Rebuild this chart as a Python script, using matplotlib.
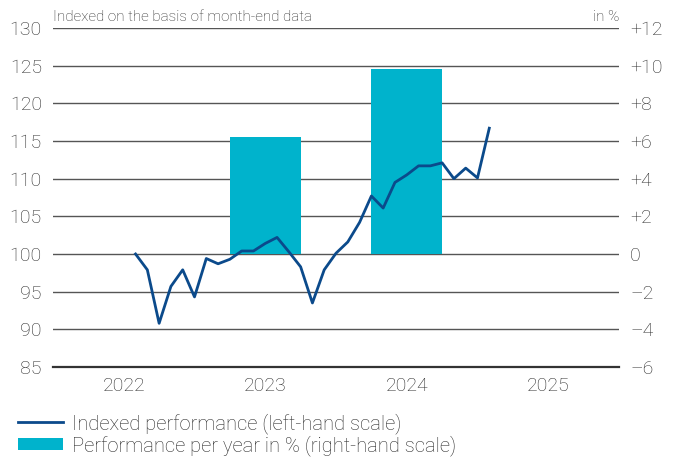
import matplotlib
matplotlib.use("Agg")
import matplotlib.pyplot as plt
import numpy as np
import pandas as pd
from matplotlib.lines import Line2D
from matplotlib.patches import Patch

plt.rcParams['font.family'] = ['Roboto', 'DejaVu Sans']

# Data
months = pd.date_range("2022-07-31", "2025-01-31", freq="ME")
index_values = [100.0, 97.9, 90.8, 95.7, 97.9, 94.3, 99.4, 98.7, 99.3, 100.4,
                100.4, 101.4, 102.2, 100.3, 98.3, 93.5, 97.9, 100.1, 101.6, 104.2,
                107.7, 106.1, 109.5, 110.5, 111.7, 111.7, 112.1, 110.0, 111.4, 110.1,
                116.7]
bar_years = [2023, 2024]
bar_values = [6.2, 9.8]
year_labels = ["2022", "2023", "2024", "2025"]
left_ticks = [85, 90, 95, 100, 105, 110, 115, 120, 125, 130]
right_ticks = [-6, -4, -2, 0, 2, 4, 6, 8, 10, 12]

line_color = "#0b4a8b"
bar_color = "#00b3cc"
text_color = "#2a2a2a"

x_line = [d.year + d.month / 12.0 for d in months]

fig = plt.figure(figsize=(6.75, 4.61), dpi=100)
ax2 = fig.add_axes([53/675, 1-367/461, 566/675, 339/461])
ax = ax2.twinx()
ax.set_zorder(ax2.get_zorder() + 1)
ax.patch.set_visible(False)

# Right axis (behind): gridlines and bars
ax2.set_ylim(-6, 12)
ax2.set_xlim(2022, 2026)
ax2.set_yticks(right_ticks)
ax2.grid(axis='y', color='#555555', linewidth=1.0, zorder=0)
ax2.set_axisbelow(True)
ax2.bar([y + 0.5 for y in bar_years], bar_values, width=0.5, color=bar_color, zorder=2)

# Left axis (front): line
ax.set_ylim(85, 130)
ax.set_yticks(left_ticks)
ax.plot(x_line, index_values, color=line_color, linewidth=2.0, zorder=3)

ax.yaxis.tick_left()
ax.yaxis.set_label_position('left')
ax2.yaxis.tick_right()
ax.set_yticklabels([str(t) for t in left_ticks])
ax2.set_yticklabels([("+" + str(t)) if t > 0 else ("–" + str(-t) if t < 0 else "0") for t in right_ticks])

ax2.set_xticks([y + 0.5 for y in range(2022, 2026)])
ax2.set_xticklabels(year_labels)

for a in (ax, ax2):
    for s in a.spines.values():
        s.set_visible(False)
    a.tick_params(length=0, colors=text_color, labelsize=14)
ax.tick_params(axis='y', pad=8)
ax2.tick_params(axis='y', pad=8)
ax2.tick_params(axis='x', pad=7, labelsize=14)
ax2.spines['bottom'].set_visible(True)
ax2.spines['bottom'].set_color('#333333')
ax2.spines['bottom'].set_linewidth(1.6)

for lab in ax.get_yticklabels() + ax2.get_yticklabels() + ax2.get_xticklabels():
    lab.set_fontweight('light')

ax2.text(0.0, 1.012, "Indexed on the basis of month-end data", transform=ax2.transAxes,
         ha='left', va='bottom', fontsize=11, color=text_color, fontweight='light')
ax2.text(1.0, 1.012, "in %", transform=ax2.transAxes,
         ha='right', va='bottom', fontsize=11, color=text_color, fontweight='light')

handles = [Line2D([0], [0], color=line_color, linewidth=2.0),
           Patch(facecolor=bar_color, edgecolor='none')]
leg = fig.legend(handles, ["Indexed performance (left-hand scale)",
                           "Performance per year in % (right-hand scale)"],
                 loc='upper left', bbox_to_anchor=(18/675, 1-413/461), frameon=False,
                 fontsize=14.5, handlelength=2.25, handleheight=0.6, handletextpad=0.45,
                 labelspacing=0.05, borderaxespad=0, borderpad=0)
for t in leg.get_texts():
    t.set_color(text_color)
    t.set_fontweight('light')

fig.savefig("out.png", dpi=100)
